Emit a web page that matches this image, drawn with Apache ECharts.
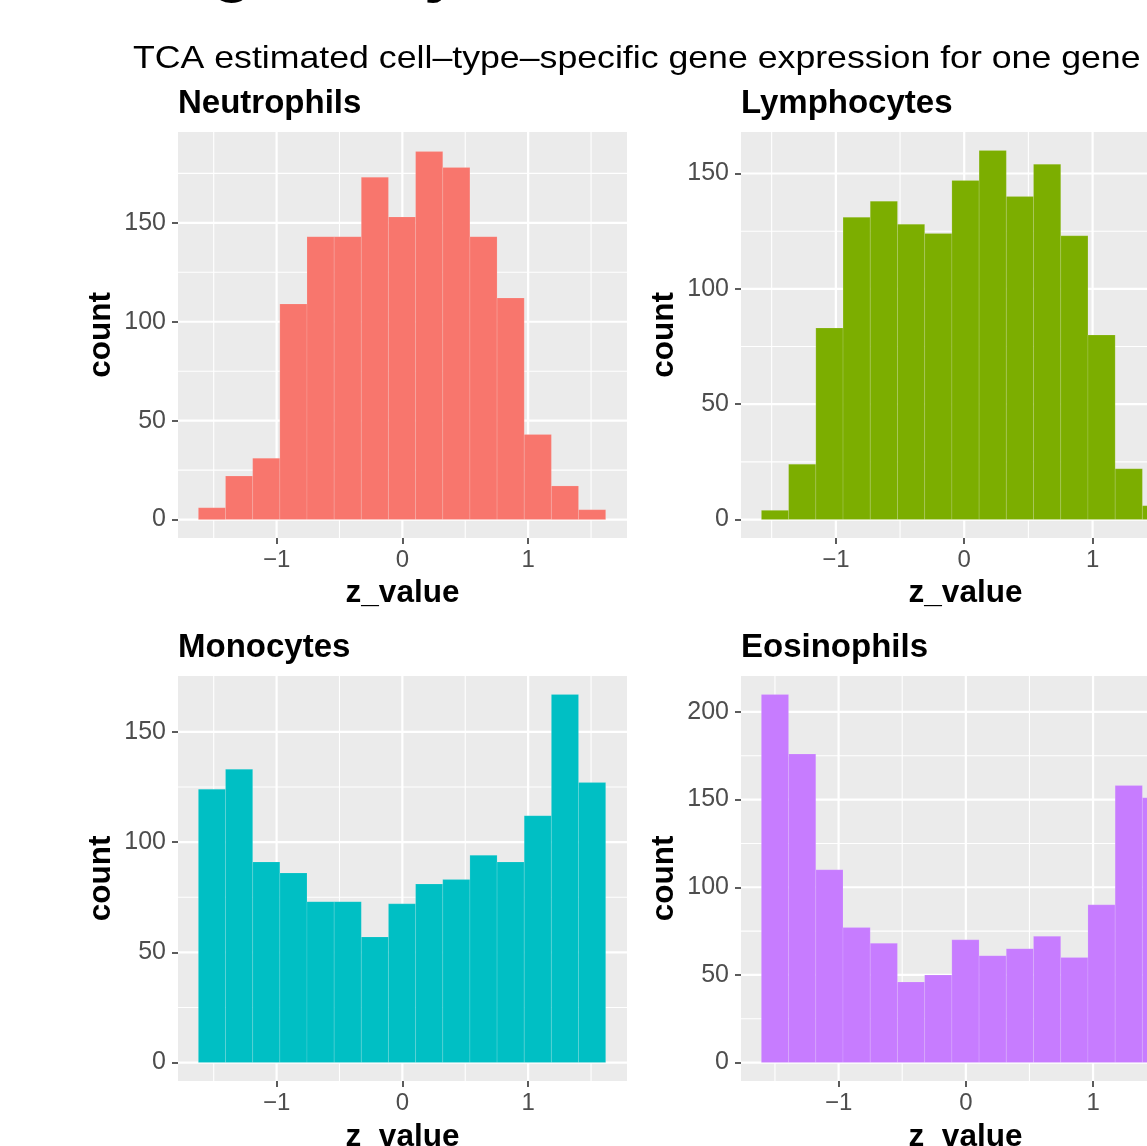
<!DOCTYPE html>
<html><head><meta charset="utf-8">
<script src="https://cdn.jsdelivr.net/npm/echarts@6/dist/echarts.min.js"></script>
<style>html,body{margin:0;padding:0;overflow:hidden;background:#fff}#c{width:1200px;height:1146px}</style>
</head><body><div id="c"></div><script>
// ---- data ----
const panelNames = ['Neutrophils', 'Lymphocytes', 'Monocytes', 'Eosinophils'];
const neutrophilCounts = [6, 22, 31, 109, 143, 143, 173, 153, 186, 178, 143, 112, 43, 17, 5];
const lymphocyteCounts = [4, 24, 83, 131, 138, 128, 124, 147, 160, 140, 154, 123, 80, 22, 6];
const monocyteCounts = [124, 133, 91, 86, 73, 73, 57, 72, 81, 83, 94, 91, 112, 167, 127];
const eosinophilCounts = [210, 176, 110, 77, 68, 46, 50, 70, 61, 65, 72, 60, 90, 158, 151];
const binStarts = [-1.622, -1.580, -1.622, -1.607];
const binWidths = [0.2159, 0.212, 0.2159, 0.2139];
const xRanges = [[-1.784, 1.786], [-1.739, 1.759], [-1.784, 1.786], [-1.767, 1.762]];
const yRanges = [[-9.3, 195.9], [-8, 168], [-8.35, 175.35], [-10.5, 220.5]];
const xTickValues = [-1, 0, 1];
const xMinorValues = [-1.5, -0.5, 0.5, 1.5];
const yTickValues = [[0, 50, 100, 150], [0, 50, 100, 150], [0, 50, 100, 150], [0, 50, 100, 150, 200]];
const yMinorValues = [[25, 75, 125, 175], [25, 75, 125], [25, 75, 125], [25, 75, 125, 175]];
const mainTitle = 'TCA estimated cell\u2013type\u2013specific gene expression for one gene';
const xName = 'z_value';
const yName = 'count';

// ---- layout / style ----
const counts = [neutrophilCounts, lymphocyteCounts, monocyteCounts, eosinophilCounts];
const colors = ['#F8766D', '#7CAE00', '#00BFC4', '#C77CFF'];
const FONT = '"Liberation Sans", Arial, Helvetica, sans-serif';
const grids = [
  {left: 178, top: 132, width: 449, height: 406},
  {left: 741, top: 132, width: 449, height: 406},
  {left: 178, top: 676, width: 449, height: 405},
  {left: 741, top: 676, width: 449, height: 405}
];
const minus = v => String(v).replace('-', '\u2212');

const xAxes = [], yAxes = [], series = [], graphics = [];
for (let i = 0; i < 4; i++) {
  grids[i].show = true;
  grids[i].backgroundColor = '#EBEBEB';
  grids[i].borderWidth = 0;
  grids[i].containLabel = false;
  xAxes.push({
    type: 'value', gridIndex: i, min: xRanges[i][0], max: xRanges[i][1], position: 'bottom',
    axisLine: {show: false, onZero: false},
    axisTick: {show: true, customValues: xTickValues, length: 6, lineStyle: {color: '#333333', width: 1.6}},
    axisLabel: {customValues: xTickValues, color: '#4D4D4D', fontSize: 24, fontFamily: FONT, margin: 10, formatter: minus},
    splitLine: {show: false}
  });
  yAxes.push({
    type: 'value', gridIndex: i, min: yRanges[i][0], max: yRanges[i][1], position: 'left',
    axisLine: {show: false, onZero: false},
    axisTick: {show: true, customValues: yTickValues[i], length: 6, lineStyle: {color: '#333333', width: 1.6}},
    axisLabel: {customValues: yTickValues[i], color: '#4D4D4D', fontSize: 25, fontFamily: FONT, margin: 12, formatter: minus},
    splitLine: {show: false}
  });
  // gridlines: [value, kind(0 = vertical, 1 = horizontal), major(1)/minor(0)]
  const gl = [];
  xMinorValues.forEach(v => gl.push([v, 0, 0]));
  yMinorValues[i].forEach(v => gl.push([v, 1, 0]));
  xTickValues.forEach(v => gl.push([v, 0, 1]));
  yTickValues[i].forEach(v => gl.push([v, 1, 1]));
  series.push({
    type: 'custom', xAxisIndex: i, yAxisIndex: i, z: 1, silent: true,
    data: gl,
    renderItem: function (params, api) {
      const cs = params.coordSys;
      const v = api.value(0), kind = api.value(1), major = api.value(2);
      const w = major ? 2.2 : 1.1;
      if (kind === 0) {
        const p = api.coord([v, 0]);
        return {type: 'line', shape: {x1: p[0], y1: cs.y, x2: p[0], y2: cs.y + cs.height},
                style: {stroke: '#FFFFFF', lineWidth: w}};
      } else {
        const p = api.coord([0, v]);
        return {type: 'line', shape: {x1: cs.x, y1: p[1], x2: cs.x + cs.width, y2: p[1]},
                style: {stroke: '#FFFFFF', lineWidth: w}};
      }
    }
  });
  // histogram bars: [binLeft, binRight, count]
  const bars = counts[i].map((c, k) => [binStarts[i] + k * binWidths[i], binStarts[i] + (k + 1) * binWidths[i], c]);
  const col = colors[i];
  series.push({
    type: 'custom', xAxisIndex: i, yAxisIndex: i, z: 3, silent: true,
    data: bars,
    encode: {x: [0, 1], y: 2},
    renderItem: function (params, api) {
      const p0 = api.coord([api.value(0), 0]);
      const p1 = api.coord([api.value(1), api.value(2)]);
      return {type: 'rect', shape: {x: p0[0], y: p1[1], width: p1[0] - p0[0], height: p0[1] - p1[1]},
              style: {fill: col, stroke: 'rgba(255,255,255,0.16)', lineWidth: 0.8}};
    }
  });
  const g = grids[i];
  const cx = g.left + g.width / 2;
  const rowOff = g.top - 132;
  graphics.push({type: 'text', x: g.left, y: 104 + rowOff,
    style: {text: panelNames[i], font: 'bold 33px ' + FONT, fill: '#000', align: 'left', verticalAlign: 'middle'}});
  graphics.push({type: 'text', x: cx, y: 593 + rowOff,
    style: {text: xName, font: 'bold 31.5px ' + FONT, fill: '#000', align: 'center', verticalAlign: 'middle'}});
  graphics.push({type: 'text', x: g.left - 77, y: g.top + g.height / 2, rotation: Math.PI / 2,
    style: {text: yName, font: 'bold 31.5px ' + FONT, fill: '#000', align: 'center', verticalAlign: 'middle'}});
}
graphics.push({type: 'text', x: 133, y: 59, scaleX: 1.115,
  style: {text: mainTitle, font: '32px ' + FONT, fill: '#000', align: 'left', verticalAlign: 'middle'}});
// fragments of the cropped heading above
graphics.push({type: 'text', x: 212, y: -29,
  style: {text: 'g', font: 'bold 66px ' + FONT, fill: '#000', align: 'left', verticalAlign: 'middle'}});
graphics.push({type: 'text', x: 424, y: -29,
  style: {text: 'y', font: 'bold 66px ' + FONT, fill: '#000', align: 'left', verticalAlign: 'middle'}});

const chart = echarts.init(document.getElementById('c'), null, {renderer: 'canvas'});
chart.setOption({
  animation: false,
  backgroundColor: '#FFFFFF',
  textStyle: {fontFamily: FONT},
  grid: grids, xAxis: xAxes, yAxis: yAxes, series: series, graphic: graphics
});
</script></body></html>
